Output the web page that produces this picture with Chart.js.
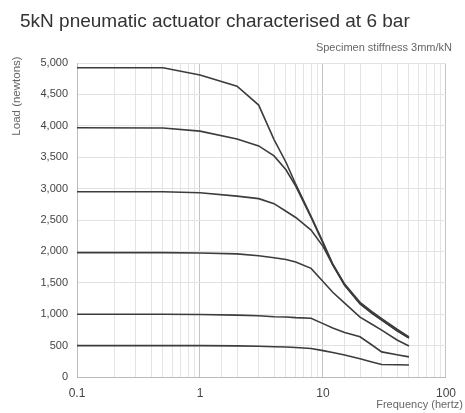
<!DOCTYPE html>
<html>
<head>
<meta charset="utf-8">
<script src="https://cdn.jsdelivr.net/npm/chart.js@4/dist/chart.umd.min.js"></script>
<style>
  html, body { margin: 0; padding: 0; background: #fff; }
  #wrap { width: 465px; height: 413px; }
</style>
</head>
<body>
<div id="wrap"><canvas id="lineChart"></canvas></div>
<script>
const freq = [0.1, 0.5, 1, 2, 3, 4, 5, 6, 8, 10, 12, 15, 20, 25, 30, 40, 50];
const load5000 = [4925, 4925, 4810, 4630, 4330, 3780, 3420, 3070, 2560, 2150, 1800, 1480, 1190, 1040, 930, 760, 640];
const load4000 = [3970, 3965, 3915, 3790, 3680, 3520, 3300, 3040, 2540, 2130, 1790, 1465, 1170, 1020, 910, 740, 625];
const load3000 = [2950, 2950, 2935, 2880, 2840, 2760, 2640, 2540, 2340, 2080, 1785, 1460, 1165, 1015, 905, 735, 620];
const load2000 = [1980, 1980, 1975, 1960, 1930, 1900, 1870, 1830, 1730, 1520, 1350, 1175, 952, 840, 746, 590, 495];
const load1000 = [1000, 1000, 995, 985, 975, 960, 955, 945, 935, 850, 780, 710, 640, 510, 400, 355, 320];
const load500 = [500, 500, 500, 495, 490, 482, 478, 470, 455, 420, 390, 350, 290, 240, 200, 195, 190];
const series = [load5000, load4000, load3000, load2000, load1000, load500];
const xTickLabels = [0.1, 1, 10, 100];

const ch = document.getElementById('lineChart');

function isMajor(v) {
  return xTickLabels.some(t => Math.abs(v - t) < 1e-9);
}

// axis titles sit outside the plot box in the original, so draw them by hand
const axisTitles = {
  id: "axisTitles",
  afterDraw(chart) {
    const ctx = chart.ctx;
    ctx.save();
    ctx.fillStyle = "#666";
    ctx.font = "11px 'Liberation Sans'";
    ctx.textAlign = "right";
    ctx.textBaseline = "middle";
    ctx.fillText("Frequency (hertz)", 463, 405);
    ctx.translate(17, 96);
    ctx.rotate(-Math.PI / 2);
    ctx.textAlign = "center";
    ctx.font = "11.5px 'Liberation Sans'";
    ctx.fillText("Load (newtons)", 0, 0);
    ctx.restore();
  }
};

new Chart(ch, {
  type: "line",
  data: {
    datasets: series.map(s => ({
      data: s.map((v, i) => ({ x: freq[i], y: v })),
      borderColor: "#3c3c3c",
      borderWidth: 1.6,
      pointRadius: 0,
      tension: 0,
      fill: false
    }))
  },
  options: {
    responsive: true,
    maintainAspectRatio: false,
    animation: false,
    layout: { padding: { left: 20, right: 13, top: 0, bottom: 0 } },
    plugins: {
      legend: { display: false },
      tooltip: { enabled: false },
      title: {
        display: true,
        text: "5kN pneumatic actuator characterised at 6 bar",
        align: "start",
        color: "#333",
        font: { family: "Liberation Sans", size: 19, weight: "normal" },
        padding: { top: 10, bottom: 9 }
      },
      subtitle: {
        display: true,
        text: "Specimen stiffness 3mm/kN",
        align: "end",
        color: "#666",
        font: { family: "Liberation Sans", size: 11 },
        padding: { top: 0, bottom: 8 }
      }
    },
    scales: {
      x: {
        type: "logarithmic",
        min: 0.1,
        max: 100,
        afterFit: s => { s.height = 36; },
        border: { display: true, color: "#bbb" },
        grid: {
          drawTicks: false,
          color: c => isMajor(c.tick.value) ? "#c4c4c4" : "#e4e4e4"
        },
        ticks: {
          autoSkip: false,
          maxRotation: 0,
          padding: 9,
          color: "#444",
          font: { family: "Liberation Sans", size: 12 },
          callback: v => isMajor(v) ? String(v) : ""
        }
      },
      y: {
        min: 0,
        max: 5000,
        afterFit: s => { s.width = 57; },
        border: { display: true, color: "#bbb" },
        grid: { drawTicks: false, color: "#e2e2e2" },
        ticks: {
          stepSize: 500,
          padding: 9,
          color: "#444",
          font: { family: "Liberation Sans", size: 11 },
          callback: v => v.toLocaleString("en-US")
        }
      }
    }
  },
  plugins: [axisTitles]
});
</script>
</body>
</html>
